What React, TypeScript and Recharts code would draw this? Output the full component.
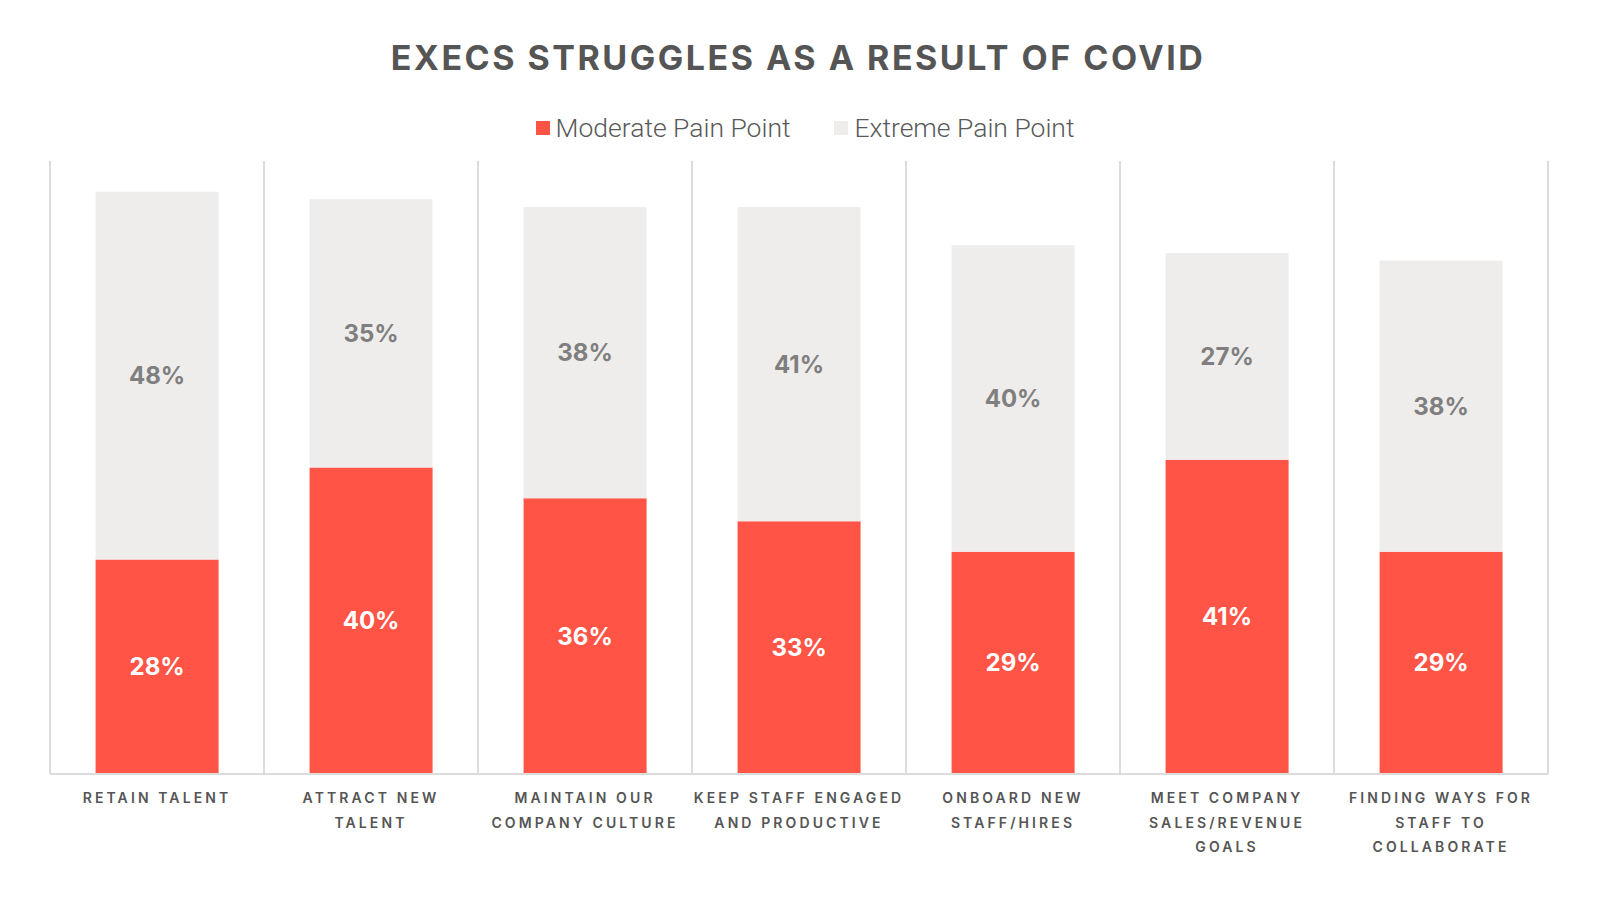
import React from 'react';
import { BarChart, Bar, XAxis, YAxis, CartesianGrid, LabelList } from 'recharts';

const categories = [
  'RETAIN TALENT',
  'ATTRACT NEW\nTALENT',
  'MAINTAIN OUR\nCOMPANY CULTURE',
  'KEEP STAFF ENGAGED\nAND PRODUCTIVE',
  'ONBOARD NEW\nSTAFF/HIRES',
  'MEET COMPANY\nSALES/REVENUE\nGOALS',
  'FINDING WAYS FOR\nSTAFF TO\nCOLLABORATE',
];
const moderate = [28, 40, 36, 33, 29, 41, 29];
const extreme = [48, 35, 38, 41, 40, 27, 38];

const series = [
  { key: 'moderate', name: 'Moderate Pain Point', color: '#FF5446', label: '#FFFFFF' },
  { key: 'extreme', name: 'Extreme Pain Point', color: '#EFEDEB', label: '#7F7F7F' },
];

const data = categories.map((name, i) => ({ name, moderate: moderate[i], extreme: extreme[i] }));

const FONT = 'Inter, "Open Sans", sans-serif';

function CategoryTick(props: any) {
  const { x, y, payload } = props;
  const lines = String(payload.value).split('\n');
  return (
    <g>
      {lines.map((ln, i) => (
        <text
          key={i}
          x={x}
          y={y + 23.5 + i * 24.5}
          textAnchor="middle"
          dominantBaseline="central"
          fill="#555555"
          fontFamily={FONT}
          fontSize={14}
          fontWeight={600}
          letterSpacing={3.1}
        >
          {ln}
        </text>
      ))}
    </g>
  );
}

export default function App() {
  const n = categories.length;
  return (
    <div style={{ position: 'absolute', left: 0, top: 0, width: 1600, height: 900, background: '#fff' }}>
      <svg width={1600} height={100} style={{ position: 'absolute', left: 0, top: 0 }}>
        <text
          x={798}
          y={70}
          textAnchor="middle"
          fill="#555555"
          fontFamily={FONT}
          fontSize={34}
          fontWeight={700}
          letterSpacing={2.5}
        >
          EXECS STRUGGLES AS A RESULT OF COVID
        </text>
      </svg>
      <div
        style={{
          position: 'absolute',
          left: 0,
          width: 1610,
          top: 114,
          display: 'flex',
          justifyContent: 'center',
          gap: 44,
          fontFamily: 'Roboto, sans-serif',
          fontWeight: 300,
          fontSize: 26.5,
          lineHeight: '27px',
          color: '#595959',
        }}
      >
        {series.map((s) => (
          <div key={s.key} style={{ display: 'flex', alignItems: 'center' }}>
            <span style={{ width: 14, height: 14, background: s.color, marginRight: 6, display: 'inline-block' }} />
            <span>{s.name}</span>
          </div>
        ))}
      </div>
      <div style={{ position: 'absolute', left: 0, top: 0 }}>
        <BarChart
          width={1600}
          height={900}
          data={data}
          margin={{ top: 161, right: 52, left: 50, bottom: 26 }}
          barCategoryGap="21.3%"
        >
          <CartesianGrid
            horizontal={false}
            stroke="#DCDCDC"
            strokeWidth={2}
            verticalCoordinatesGenerator={({ offset }: any) =>
              Array.from({ length: n + 1 }, (_, i) => offset.left + (i * offset.width) / n)
            }
          />
          <XAxis
            dataKey="name"
            interval={0}
            height={100}
            tickLine={false}
            tickSize={0}
            tickMargin={0}
            axisLine={{ stroke: '#DCDCDC', strokeWidth: 2 }}
            tick={<CategoryTick />}
          />
          <YAxis hide domain={[0, 80]} />
          {series.map((s) => (
            <Bar key={s.key} dataKey={s.key} name={s.name} stackId="a" fill={s.color} isAnimationActive={false}>
              <LabelList
                dataKey={s.key}
                position="center"
                fill={s.label}
                fontFamily={FONT}
                fontSize={24}
                fontWeight={700}
                formatter={(v: any) => `${v}%`}
              />
            </Bar>
          ))}
        </BarChart>
      </div>
    </div>
  );
}
